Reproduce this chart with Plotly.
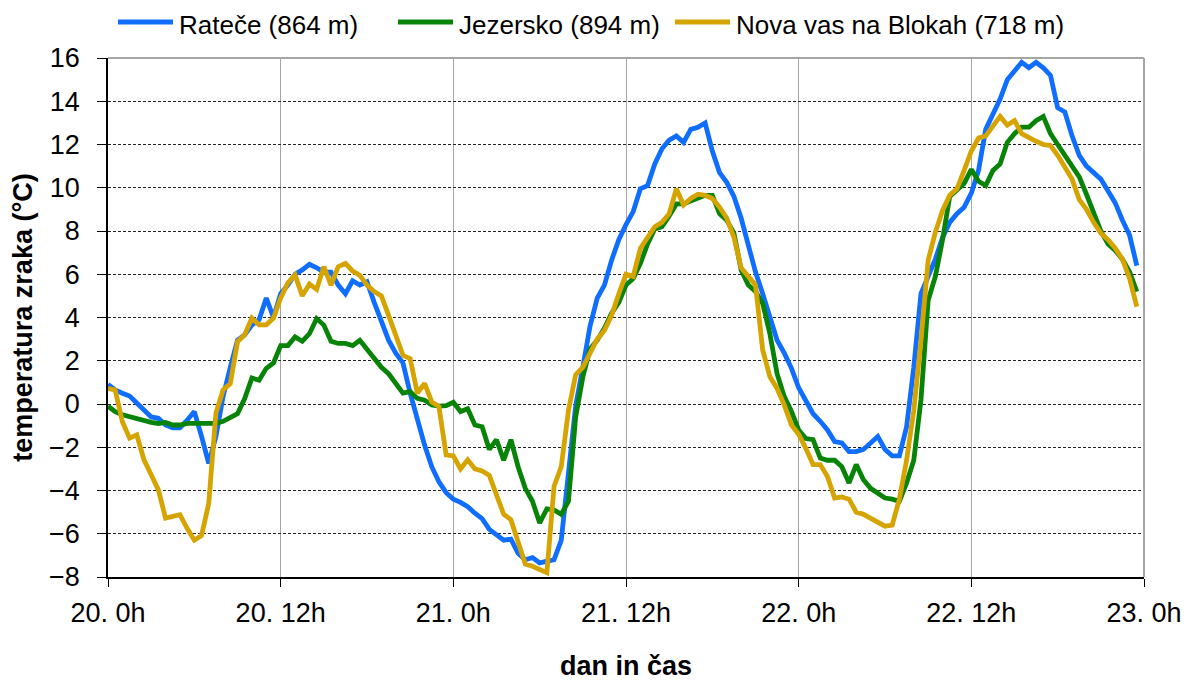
import plotly.graph_objects as go

# ---- data (half-hourly, 20. 0h .. 22. 23:30h) ----
tick_hours = [0, 12, 24, 36, 48, 60, 72]
tick_labels = ["20. 0h", "20. 12h", "21. 0h", "21. 12h", "22. 0h", "22. 12h", "23. 0h"]

ratece = [
    0.9, 0.65, 0.5, 0.37, 0.05, -0.28, -0.6, -0.66, -0.97, -1.1, -1.1, -0.75,
    -0.35, -1.5, -2.75, -1.5, 0.35, 1.7, 2.95, 3.2, 3.65, 3.9, 4.9, 4.0,
    5.1, 5.5, 6.0, 6.2, 6.46, 6.3, 6.1, 6.1, 5.5, 5.1, 5.7, 5.5,
    5.65, 4.7, 3.8, 2.95, 2.35, 1.9, 0.5, -0.74, -1.9, -2.9, -3.6, -4.1,
    -4.4, -4.55, -4.75, -5.05, -5.3, -5.8, -6.05, -6.3, -6.25, -6.9, -7.2, -7.1,
    -7.35, -7.25, -7.2, -6.3, -3.35, -0.1, 1.7, 3.6, 4.9, 5.5, 6.65, 7.6,
    8.3, 8.9, 9.95, 10.1, 11.1, 11.8, 12.2, 12.4, 12.1, 12.7, 12.8, 13.0,
    11.7, 10.7, 10.25, 9.6, 8.6, 7.3, 6.1, 5.1, 4.0, 2.95, 2.35, 1.65,
    0.75, 0.15, -0.45, -0.8, -1.2, -1.74, -1.8, -2.2, -2.2, -2.1, -1.8, -1.5,
    -2.1, -2.4, -2.4, -1.05, 1.7, 5.1, 5.9, 6.7, 7.7, 8.4, 8.8, 9.1,
    9.75, 10.8, 12.7, 13.4, 14.1, 15.0, 15.4, 15.8, 15.55, 15.8, 15.55, 15.2,
    13.7, 13.5, 12.4, 11.5, 11.0, 10.7, 10.4, 9.85, 9.3, 8.5, 7.8, 6.4,
]

jezersko = [
    -0.1, -0.35, -0.5, -0.6, -0.65, -0.75, -0.85, -0.9, -0.85, -0.97, -0.97, -0.9,
    -0.9, -0.9, -0.9, -0.9, -0.8, -0.65, -0.45, 0.25, 1.2, 1.1, 1.65, 1.9,
    2.7, 2.7, 3.1, 2.9, 3.25, 3.95, 3.65, 2.9, 2.8, 2.8, 2.7, 2.95,
    2.55, 2.1, 1.7, 1.4, 0.95, 0.5, 0.57, 0.26, 0.18, -0.05, -0.1, -0.08,
    0.08, -0.35, -0.22, -0.97, -1.05, -2.1, -1.65, -2.6, -1.65, -2.9, -3.9, -4.5,
    -5.5, -4.85, -4.9, -5.1, -4.5, -0.6, 1.25, 2.55, 2.95, 3.5, 4.2, 4.7,
    5.5, 5.8, 6.5, 7.4, 8.1, 8.2, 8.7, 9.25, 9.25, 9.4, 9.55, 9.65,
    9.65, 8.8, 8.5, 7.9, 6.2, 5.5, 5.2, 4.65, 3.25, 1.4, 0.34, -0.35,
    -1.2, -1.6, -1.65, -2.5, -2.6, -2.6, -2.9, -3.65, -2.8, -3.5, -3.9, -4.1,
    -4.35, -4.4, -4.5, -3.65, -2.6, 0.2, 4.8, 5.9, 7.6, 9.6, 9.9, 10.2,
    10.85, 10.3, 10.1, 10.8, 11.1, 12.1, 12.5, 12.8, 12.8, 13.1, 13.3, 12.5,
    12.0, 11.5, 10.9, 10.5, 9.7, 8.85, 8.0, 7.4, 7.1, 6.7, 6.1, 5.2,
]

nova_vas = [
    0.72, 0.65, -0.82, -1.58, -1.43, -2.58, -3.27, -3.97, -5.28, -5.2, -5.12, -5.75,
    -6.3, -6.08, -4.6, -0.43, 0.65, 0.95, 2.88, 3.2, 3.97, 3.66, 3.66, 3.97,
    4.9, 5.6, 5.97, 5.0, 5.55, 5.3, 6.35, 5.5, 6.35, 6.5, 6.15, 5.95,
    5.5, 5.2, 5.0, 4.1, 3.2, 2.25, 2.1, 0.5, 0.95, 0.1, -0.12, -2.35,
    -2.4, -3.0, -2.58, -3.0, -3.1, -3.3, -4.2, -5.1, -5.35, -6.3, -7.4, -7.5,
    -7.65, -7.8, -3.8, -2.9, -0.3, 1.35, 1.7, 2.4, 3.0, 3.4, 4.1, 5.1,
    6.0, 5.9, 7.2, 7.7, 8.2, 8.4, 8.8, 9.95, 9.2, 9.5, 9.7, 9.65,
    9.5, 9.1, 8.6, 7.7, 6.3, 5.9, 5.5, 2.5, 1.26, 0.72, -0.05, -0.97,
    -1.4, -2.05, -2.8, -2.8, -3.35, -4.35, -4.3, -4.4, -5.0, -5.1, -5.3, -5.5,
    -5.65, -5.6, -4.4, -2.6, -0.3, 2.95, 6.65, 7.95, 8.95, 9.65, 9.95, 10.8,
    11.7, 12.3, 12.4, 12.85, 13.3, 12.9, 13.1, 12.5, 12.3, 12.15, 12.0, 11.95,
    11.5, 10.9, 10.4, 9.45, 9.0, 8.4, 7.9, 7.6, 7.2, 6.7, 5.8, 4.5,
]

hours = [i * 0.5 for i in range(len(ratece))]

series_names = ["Rateče (864 m)", "Jezersko (894 m)", "Nova vas na Blokah (718 m)"]
series_values = [ratece, jezersko, nova_vas]
series_colors = ["#0F6EFF", "#078407", "#D6A400"]

FONT = "Liberation Sans, Arial, sans-serif"
OFF = 8  # page body margin in the browser
W, H = 1194 - OFF, 681 - OFF
ML, MT = 108 - OFF, 58 - OFF
MR, MB = W - (1144 - OFF), H - (577 - OFF)
PW, PH = W - ML - MR, H - MT - MB


def px_to_paper(px, py):
    # screen pixel -> paper coordinates
    return (px - OFF - ML) / PW, (H - MB - (py - OFF)) / PH


fig = go.Figure()
for name, vals, col in zip(series_names, series_values, series_colors):
    fig.add_trace(go.Scatter(
        x=hours, y=vals, name=name, mode="lines",
        line=dict(color=col, width=4.8), showlegend=False,
    ))

legend_line_x = [118, 398, 675]
shapes = [
    dict(type="line", xref="paper", yref="paper", x0=0, x1=1, y0=1, y1=1,
         line=dict(color="#A6A6A6", width=2), layer="above"),
    dict(type="line", xref="paper", yref="paper", x0=1, x1=1, y0=0, y1=1,
         line=dict(color="#A6A6A6", width=2), layer="above"),
]
annotations = []
for lx, name, col in zip(legend_line_x, series_names, series_colors):
    x0, yy = px_to_paper(lx, 22)
    x1, _ = px_to_paper(lx + 55, 22)
    tx, ytop = px_to_paper(lx + 60, OFF + 1)
    shapes.append(dict(type="line", xref="paper", yref="paper", x0=x0, x1=x1, y0=yy, y1=yy,
                       line=dict(color=col, width=5)))
    annotations.append(dict(xref="paper", yref="paper", x=tx, y=ytop, xanchor="left", yanchor="top",
                            text=name, showarrow=False, borderpad=0,
                            font=dict(family=FONT, size=26, color="black")))

fig.update_layout(
    width=W, height=H,
    paper_bgcolor="white", plot_bgcolor="white",
    margin=dict(l=ML, r=MR, t=MT, b=MB, autoexpand=False),
    font=dict(family=FONT, color="black", size=26),
    showlegend=False,
    xaxis=dict(
        range=[0, 72], tickmode="array", tickvals=tick_hours, ticktext=tick_labels,
        showgrid=True, gridcolor="#A6A6A6", gridwidth=1,
        showline=True, linecolor="black", linewidth=1.5,
        ticks="outside", ticklen=8, tickcolor="black", tickwidth=1.2,
        tickfont=dict(family=FONT, size=27, color="black"),
        ticklabelstandoff=3,
        zeroline=False, automargin=False,
        title=dict(text="<b>dan in čas</b>", font=dict(family=FONT, size=27, color="black"), standoff=30),
    ),
    yaxis=dict(
        range=[-8, 16], dtick=2, tick0=0,
        showgrid=True, gridcolor="#222222", gridwidth=1, griddash="3px,2px",
        showline=True, linecolor="black", linewidth=1.5,
        ticks="outside", ticklen=9, tickcolor="black", tickwidth=1.2,
        tickfont=dict(family=FONT, size=27, color="black"),
        ticklabelstandoff=12,
        zeroline=False, automargin=False,
        title=dict(text="<b>temperatura zraka (°C)</b>", font=dict(family=FONT, size=27, color="black"), standoff=11),
    ),
    shapes=shapes,
    annotations=annotations,
)

fig.write_html("out.html")
